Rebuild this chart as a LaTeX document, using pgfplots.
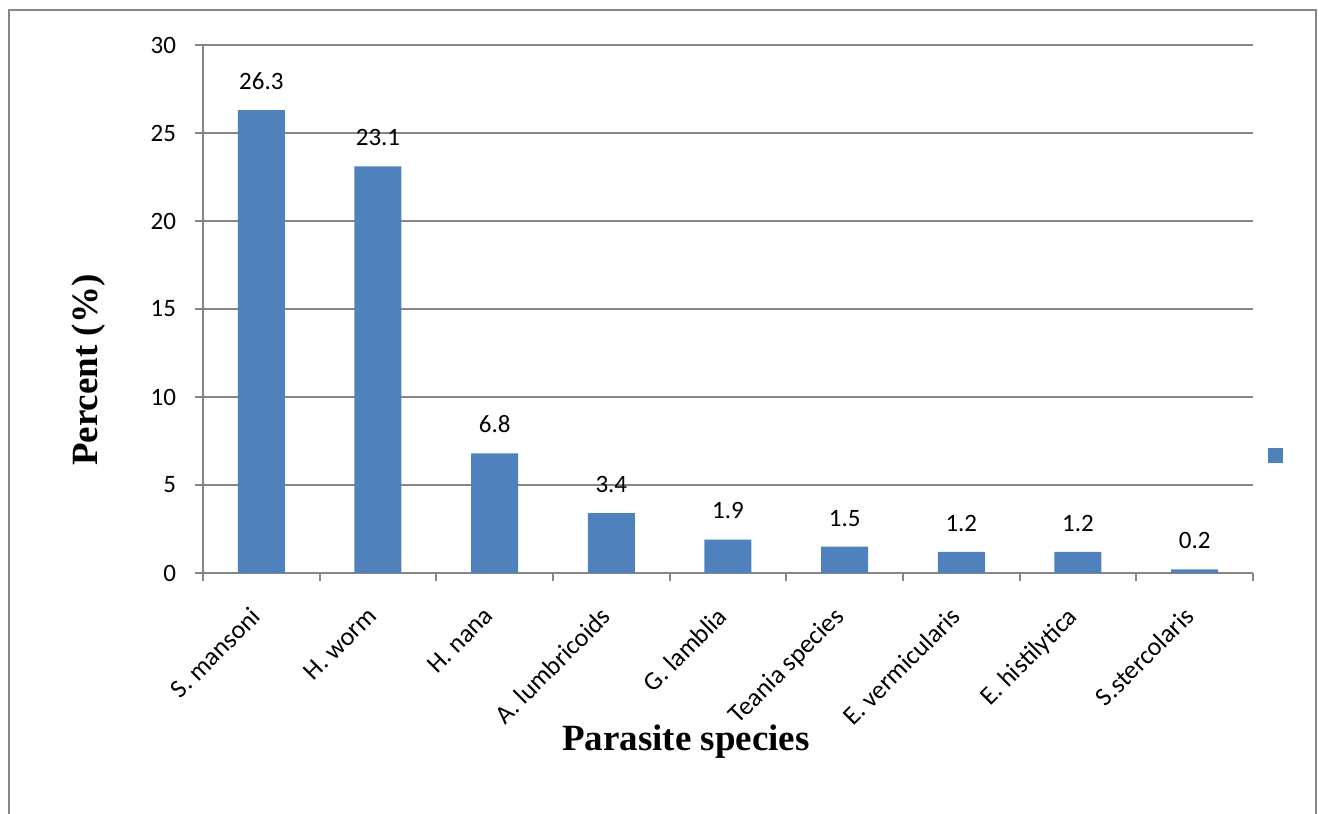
\documentclass[border=0pt]{standalone}
\usepackage{pgfplots}
\pgfplotsset{compat=1.18}
\usepackage{fontspec}
\setmainfont{Carlito}
\newfontfamily\timesfont{Liberation Serif}

\definecolor{barblue}{RGB}{79,129,189}
\definecolor{axgray}{RGB}{134,134,134}

\begin{document}
\begin{tikzpicture}
% page is 1319 x 814 px, 1 px = 0.5 pt
\path[use as bounding box] (0pt,0pt) rectangle (659.5pt,407pt);
% outer chart frame (bottom edge runs off the page)
\draw[axgray, line width=1.2pt] (4.5pt,-10pt) -- (4.5pt,402pt) -- (658pt,402pt) -- (658pt,-10pt);

\begin{axis}[
    at={(101.5pt,120.5pt)}, anchor=south west,
    scale only axis, width=525pt, height=264pt,
    /pgf/number format/assume math mode=true,
    font=\fontsize{12.5}{15}\selectfont,
    ymin=0, ymax=30, ytick={0,5,...,30},
    xmin=-0.5, xmax=8.5,
    xtick={0,...,8},
    xticklabels={S. mansoni, H. worm, H. nana, A. lumbricoids, G. lamblia,
                 Teania species, E. vermicularis, E. histilytica, S.stercolaris},
    minor xtick={-0.5,0.5,...,8.5},
    axis x line*=bottom, axis y line*=left,
    axis line style={axgray, line width=0.9pt, -},
    tick align=outside,
    major tick length=4pt, minor tick length=4pt,
    x tick style={draw=none}, minor x tick style={draw=axgray, line width=0.9pt},
    y tick style={axgray, line width=0.9pt},
    ymajorgrids, grid style={axgray, line width=0.8pt},
    xticklabel style={yshift=-12pt, xshift=-6pt, rotate=45, anchor=north east,
                      inner sep=0pt, font=\fontsize{13}{15}\selectfont},
    yticklabel style={xshift=-6pt},
    ylabel={\timesfont\bfseries Percent (\%)},
    xlabel={\timesfont\bfseries Parasite species},
    label style={font=\fontsize{18.5}{22}\selectfont},
    ylabel style={at={(-0.109,0.384)}, anchor=center},
    xlabel style={at={(0.46,-0.32)}, anchor=center},
    legend style={at={(1.0143,0.2216)}, anchor=west, draw=none, fill=none,
                  inner sep=0pt},
    legend image code/.code={\fill[barblue] (0pt,-3.75pt) rectangle (7.5pt,3.75pt);},
    clip=false,
]
\addplot[ybar, bar width=23.5pt, fill=barblue, draw=none,
    nodes near coords,
    nodes near coords style={anchor=south, inner sep=0pt, yshift=10pt, black,
                             font=\fontsize{12.5}{15}\selectfont}]
coordinates {
    (0,26.3) (1,23.1) (2,6.8) (3,3.4) (4,1.9) (5,1.5) (6,1.2) (7,1.2) (8,0.2)
};
\addlegendentry{}
\end{axis}
\end{tikzpicture}
\end{document}
